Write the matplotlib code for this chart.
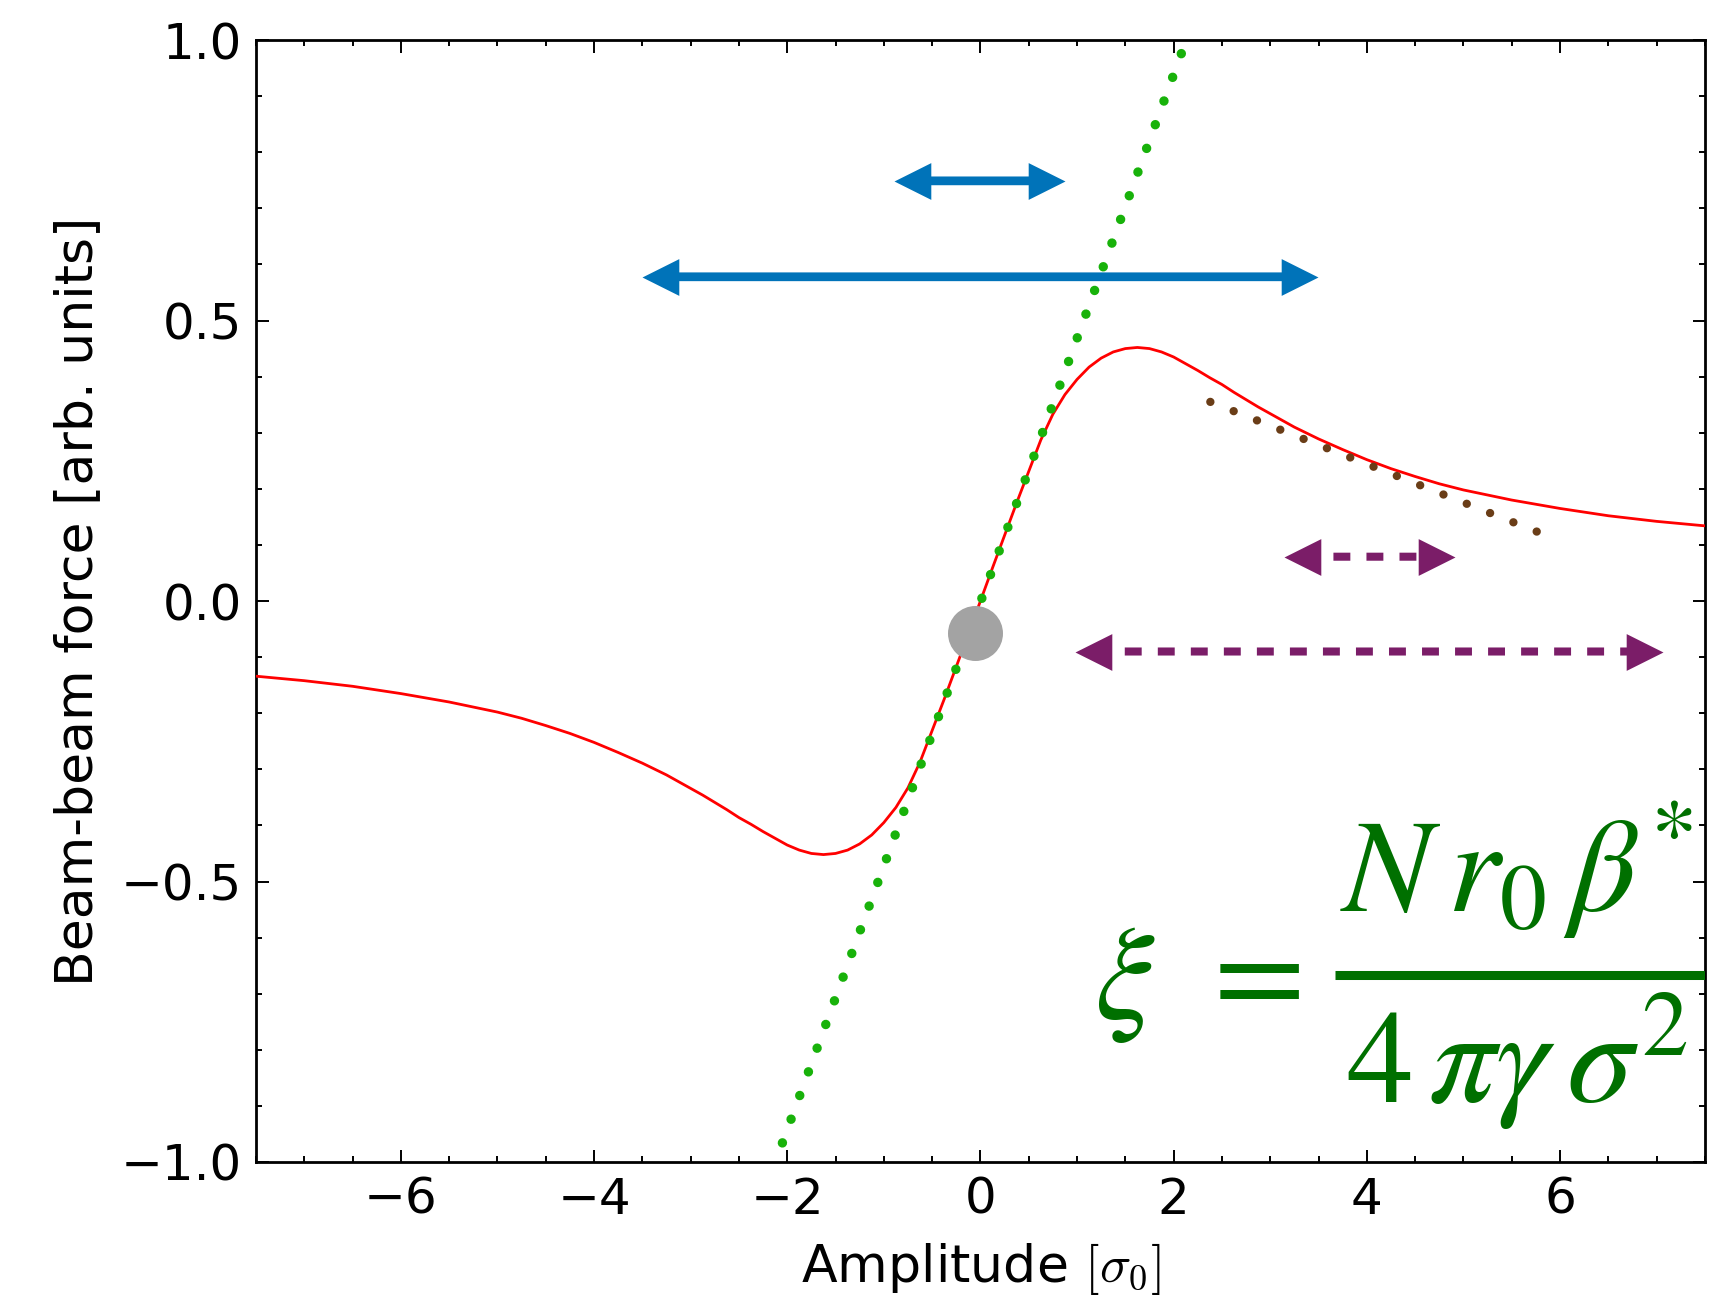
import matplotlib
matplotlib.use("Agg")
import matplotlib.pyplot as plt
from matplotlib.path import Path
from matplotlib.patches import FancyArrowPatch
from matplotlib.ticker import MultipleLocator

# red curve
amplitude = [-7.5, -7.0, -6.5, -6.0, -5.5, -5.0, -4.75, -4.5, -4.25, -4.0,
             -3.75, -3.5, -3.25, -3.0, -2.875, -2.75, -2.625, -2.5, -2.375,
             -2.25, -2.125, -2.0, -1.875, -1.75, -1.625, -1.5, -1.375, -1.25,
             -1.125, -1.0, -0.875, -0.75, -0.625, -0.5, -0.375, -0.25, -0.125,
             0.0, 0.125, 0.25, 0.375, 0.5, 0.625, 0.75, 0.875, 1.0, 1.125,
             1.25, 1.375, 1.5, 1.625, 1.75, 1.875, 2.0, 2.125, 2.25, 2.375,
             2.5, 2.625, 2.75, 2.875, 3.0, 3.25, 3.5, 3.75, 4.0, 4.25, 4.5,
             4.75, 5.0, 5.5, 6.0, 6.5, 7.0, 7.5]
force = [-0.134, -0.142, -0.152, -0.165, -0.180, -0.198, -0.209, -0.222,
         -0.236, -0.252, -0.270, -0.289, -0.310, -0.334, -0.346, -0.359,
         -0.372, -0.386, -0.398, -0.411, -0.423, -0.435, -0.444, -0.450,
         -0.452, -0.450, -0.444, -0.433, -0.417, -0.395, -0.368, -0.333,
         -0.287, -0.231, -0.175, -0.117, -0.059,
         0.0, 0.059, 0.117, 0.175, 0.231, 0.287, 0.333, 0.368, 0.395, 0.417,
         0.433, 0.444, 0.450, 0.452, 0.450, 0.444, 0.435, 0.423, 0.411, 0.398,
         0.386, 0.372, 0.359, 0.346, 0.334, 0.310, 0.289, 0.270, 0.252, 0.236,
         0.222, 0.209, 0.198, 0.180, 0.165, 0.152, 0.142, 0.134]

# dotted guide lines (end points)
linear_x = [-2.05, 2.11]
linear_y = [-0.966, 0.99]
tail_x = [2.38, 5.80]
tail_y = [0.355, 0.121]

# beam centre
centre_x = [-0.06]
centre_y = [-0.057]

# double arrows: left end, right end, height
blue_arrows = [(-0.89, 0.88, 0.749), (-3.50, 3.49, 0.578)]
purple_arrows = [(3.14, 4.91, 0.079), (0.98, 7.07, -0.090)]

BLUE = "#0073b9"
PURPLE = "#7b1d68"
FORMULA = "#007000"

plt.rcParams["font.family"] = "DejaVu Sans"

fig = plt.figure(figsize=(17.27, 12.96), dpi=100)
ax = fig.add_axes([0.1482, 0.1034, 0.839, 0.8657])

ax.plot(amplitude, force, color="red", lw=2.0, zorder=3)

ax.plot(linear_x, linear_y, color="#18b20a", lw=6.8,
        linestyle=(0, (0.01, 2.66)), dash_capstyle="round", zorder=4)
ax.plot(tail_x, tail_y, color="#6a3d17", lw=6.0,
        linestyle=(0, (0.01, 3.0)), dash_capstyle="round", zorder=4)

ax.scatter(centre_x, centre_y, s=1568, color="#a3a3a3", lw=0, zorder=5)

head_right = Path([(0, 0), (-1, 0.5), (-1, -0.5), (0, 0)])
head_left = Path([(0, 0), (1, 0.5), (1, -0.5), (0, 0)])


def double_arrow(x0, x1, y, color, dashed):
    if dashed:
        shaft = FancyArrowPatch((x0, y), (x1, y), arrowstyle="-",
                                shrinkA=12, shrinkB=12, lw=5.8, color=color,
                                linestyle=(0, (2.1, 2.0)), capstyle="butt",
                                zorder=6)
    else:
        shaft = FancyArrowPatch((x0, y), (x1, y), arrowstyle="-",
                                shrinkA=12, shrinkB=12, lw=6.3, color=color,
                                capstyle="butt", zorder=6)
    ax.add_patch(shaft)
    ax.plot([x0], [y], marker=head_left, ms=53, mew=0, color=color, zorder=7)
    ax.plot([x1], [y], marker=head_right, ms=53, mew=0, color=color, zorder=7)


for x0, x1, y in blue_arrows:
    double_arrow(x0, x1, y, BLUE, False)
for x0, x1, y in purple_arrows:
    double_arrow(x0, x1, y, PURPLE, True)

# beam-beam parameter formula, drawn piece by piece
fkw = dict(color=FORMULA, fontsize=96, math_fontfamily="stix",
           clip_on=True, zorder=8)
ax.text(1.49, -0.679, r"$\xi$", ha="center", va="center", **fkw)
ax.text(2.76, -0.668, r"$=$", ha="center", va="center", **fkw)
ax.text(5.55, -0.556, r"$N\,r_0\,\beta^{*}$", ha="center", va="baseline", **fkw)
ax.text(5.55, -0.895, r"$4\,\pi\gamma\,\sigma^{2}$", ha="center",
        va="baseline", **fkw)
ax.plot([3.67, 7.5], [-0.667, -0.667], color=FORMULA, lw=6.5,
        solid_capstyle="butt", zorder=8)

ax.set_xlim(-7.5, 7.5)
ax.set_ylim(-1.0, 1.0)
ax.xaxis.set_major_locator(MultipleLocator(2))
ax.xaxis.set_minor_locator(MultipleLocator(0.5))
ax.yaxis.set_major_locator(MultipleLocator(0.5))
ax.yaxis.set_minor_locator(MultipleLocator(0.1))
ax.tick_params(which="both", direction="in", top=True, right=True,
               width=1.4, labelsize=36, pad=10)
ax.tick_params(which="major", length=9)
ax.tick_params(which="minor", length=4)
for sp in ax.spines.values():
    sp.set_linewidth(2.0)

ax.set_xlabel(r"Amplitude $[\sigma_0]$", fontsize=37.5, math_fontfamily="cm",
              labelpad=12)
ax.set_ylabel("Beam-beam force [arb. units]", fontsize=37.5, labelpad=13)

fig.savefig("out.png", dpi=100)
